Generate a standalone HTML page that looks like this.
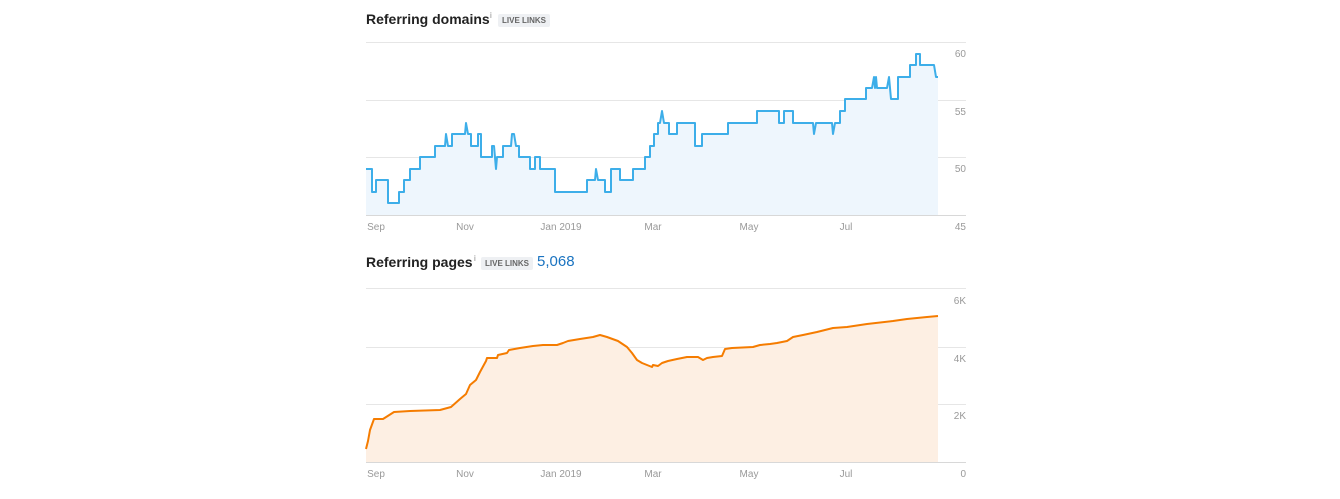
<!DOCTYPE html>
<html><head><meta charset="utf-8"><style>
html,body{margin:0;padding:0;background:#fff;width:1340px;height:499px;overflow:hidden;font-family:"Liberation Sans",Arial,sans-serif}
.t{position:absolute;font-weight:bold;font-size:14px;color:#222}
.i{position:absolute;font-size:8px;color:#888}
.b{position:absolute;background:#eef0f3;color:#666;font-size:8px;font-weight:bold;letter-spacing:0;padding:2px 4px;border-radius:2px}
</style></head><body>
<div class="t" style="left:366px;top:11px">Referring domains</div>
<div class="i" style="left:490px;top:11px">i</div>
<div class="b" style="left:498px;top:14px">LIVE LINKS</div>
<div class="t" style="left:366px;top:254px">Referring pages</div>
<div class="i" style="left:474px;top:254px">i</div>
<div class="b" style="left:481px;top:257px">LIVE LINKS</div>
<div style="position:absolute;left:537px;top:253px;font-size:15px;color:#1a73c0">5,068</div>
<svg width="1340" height="499" style="position:absolute;left:0;top:0" font-family="Liberation Sans, Arial, sans-serif" font-size="10" fill="#999">
<g stroke="#e6e6e6" stroke-width="1">
<line x1="366" x2="966" y1="42.5" y2="42.5"/><line x1="366" x2="966" y1="100.5" y2="100.5"/><line x1="366" x2="966" y1="157.5" y2="157.5"/>
<line x1="366" x2="966" y1="288.5" y2="288.5"/><line x1="366" x2="966" y1="347.5" y2="347.5"/><line x1="366" x2="966" y1="404.5" y2="404.5"/>
</g>
<g stroke="#d8d8d8"><line x1="366" x2="966" y1="215.5" y2="215.5"/><line x1="366" x2="966" y1="462.5" y2="462.5"/>
<line x1="368.5" x2="368.5" y1="210" y2="215"/><line x1="465.5" x2="465.5" y1="210" y2="215"/><line x1="561.5" x2="561.5" y1="210" y2="215"/><line x1="653.5" x2="653.5" y1="210" y2="215"/><line x1="749.5" x2="749.5" y1="210" y2="215"/><line x1="845.5" x2="845.5" y1="210" y2="215"/>
<line x1="368.5" x2="368.5" y1="457" y2="462"/><line x1="465.5" x2="465.5" y1="457" y2="462"/><line x1="561.5" x2="561.5" y1="457" y2="462"/><line x1="653.5" x2="653.5" y1="457" y2="462"/><line x1="749.5" x2="749.5" y1="457" y2="462"/><line x1="845.5" x2="845.5" y1="457" y2="462"/>
</g>
<g id="d">
<path fill="#eef6fd" d="M366,215 L366,169 H372 V192 H376 V180 H388 V203 H399 V192 H404 V180 H410 V169 H420 V157 H435 V146 H445 L446,134 L448,146 H452 V134 H465 L466,123 L468,134 H471 V146 H478 V134 H481 V157 H492 V146 H494 L496,169 L497,157 H503 V146 H511 L512,134 H514 L516,146 H519 V157 H530 V169 H535 V157 H540 V169 H555 V192 H587 V180 H595 L596,169 L598,180 H605 V192 H611 V169 H620 V180 H633 V169 H645 V157 H650 V146 H654 V134 H658 V123 H660 L662,111 L664,123 H669 V134 H677 V123 H695 V146 H702 V134 H728 V123 H757 V111 H779 V123 H784 V111 H793 V123 H813 L814,134 L816,123 H832 L833,134 L835,123 H840 V111 H845 V99 H866 V88 H872 L874,77 L875,88 L876,77 L877,88 H887 L889,77 L891,99 H898 V77 H910 V65 H916 V54 H920 V65 H934 L936,77 H938 V215 Z"/>
<path fill="none" stroke="#3daee9" stroke-width="2" stroke-linejoin="round" d="M366,169 H372 V192 H376 V180 H388 V203 H399 V192 H404 V180 H410 V169 H420 V157 H435 V146 H445 L446,134 L448,146 H452 V134 H465 L466,123 L468,134 H471 V146 H478 V134 H481 V157 H492 V146 H494 L496,169 L497,157 H503 V146 H511 L512,134 H514 L516,146 H519 V157 H530 V169 H535 V157 H540 V169 H555 V192 H587 V180 H595 L596,169 L598,180 H605 V192 H611 V169 H620 V180 H633 V169 H645 V157 H650 V146 H654 V134 H658 V123 H660 L662,111 L664,123 H669 V134 H677 V123 H695 V146 H702 V134 H728 V123 H757 V111 H779 V123 H784 V111 H793 V123 H813 L814,134 L816,123 H832 L833,134 L835,123 H840 V111 H845 V99 H866 V88 H872 L874,77 L875,88 L876,77 L877,88 H887 L889,77 L891,99 H898 V77 H910 V65 H916 V54 H920 V65 H934 L936,77 H938"/>
</g>
<path fill="#fdefe3" d="M366,462 L366,449 L368,441 L370,430 L374,419 L383,419 L394,412 L410,411 L440,410 L451,407 L460,399 L466,394 L470,385 L476,380 L480,372 L486,361 L487,358 L497,358 L498,355 L507,353 L509,350 L520,348 L533,346 L543,345 L557,345 L563,343 L568,341 L580,339 L593,337 L600,335 L607,337 L618,341 L627,347 L632,353 L637,360 L642,363 L652,367 L653,365 L658,366 L662,363 L668,361 L677,359 L687,357 L698,357 L703,360 L707,358 L713,357 L722,356 L725,349 L732,348 L753,347 L760,345 L770,344 L777,343 L787,341 L793,337 L803,335 L817,332 L833,328 L847,327 L867,324 L893,321 L907,319 L927,317 L938,316 L938,462 Z"/>
<path fill="none" stroke="#f57c00" stroke-width="2" stroke-linejoin="round" d="M366,449 L368,441 L370,430 L374,419 L383,419 L394,412 L410,411 L440,410 L451,407 L460,399 L466,394 L470,385 L476,380 L480,372 L486,361 L487,358 L497,358 L498,355 L507,353 L509,350 L520,348 L533,346 L543,345 L557,345 L563,343 L568,341 L580,339 L593,337 L600,335 L607,337 L618,341 L627,347 L632,353 L637,360 L642,363 L652,367 L653,365 L658,366 L662,363 L668,361 L677,359 L687,357 L698,357 L703,360 L707,358 L713,357 L722,356 L725,349 L732,348 L753,347 L760,345 L770,344 L777,343 L787,341 L793,337 L803,335 L817,332 L833,328 L847,327 L867,324 L893,321 L907,319 L927,317 L938,316"/>
<g text-anchor="middle">
<text x="376" y="230">Sep</text><text x="465" y="230">Nov</text><text x="561" y="230">Jan 2019</text><text x="653" y="230">Mar</text><text x="749" y="230">May</text><text x="846" y="230">Jul</text>
<text x="376" y="477">Sep</text><text x="465" y="477">Nov</text><text x="561" y="477">Jan 2019</text><text x="653" y="477">Mar</text><text x="749" y="477">May</text><text x="846" y="477">Jul</text>
</g>
<g text-anchor="end">
<text x="966" y="57">60</text><text x="966" y="115">55</text><text x="966" y="172">50</text><text x="966" y="230">45</text>
<text x="966" y="304">6K</text><text x="966" y="362">4K</text><text x="966" y="419">2K</text><text x="966" y="477">0</text>
</g>
</svg>
</body></html>
